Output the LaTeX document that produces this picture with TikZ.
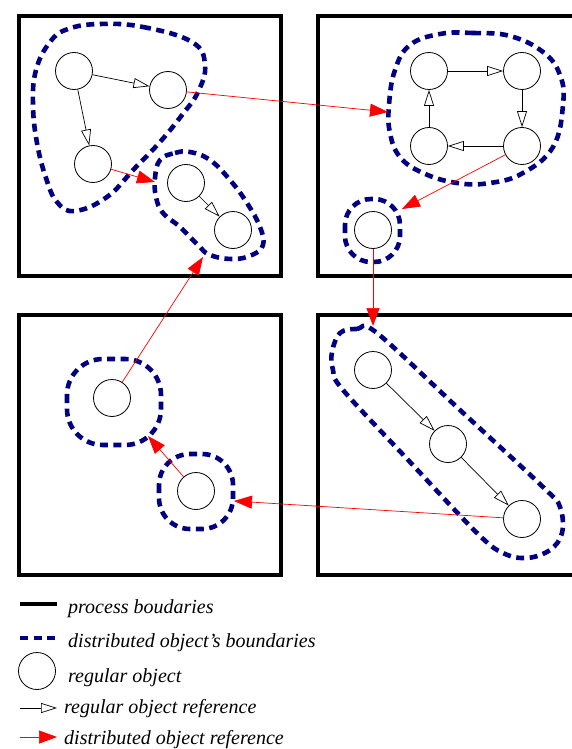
\documentclass[tikz,border=0pt]{standalone}
\usepackage{fontspec}
\setmainfont{Liberation Serif}
\usetikzlibrary{arrows.meta}
\definecolor{blobblue}{RGB}{0,0,128}

\begin{document}
\begin{tikzpicture}[x=1pt,y=-1pt,
  obj/.style={circle,draw,line width=0.8pt,minimum size=37pt,inner sep=0pt},
  proc/.style={line width=4pt},
  distobj/.style={draw=blobblue,line width=4.6pt,dash pattern=on 8pt off 5.5pt},
  regref/.style={line width=0.7pt,-{Triangle[open,length=16pt,width=10pt]}},
  distref/.style={red,line width=0.7pt,-{Triangle[length=18pt,width=13pt]}},
  legtext/.style={anchor=base west,inner sep=0pt,font=\fontsize{20}{24}\selectfont\itshape}]
  \useasboundingbox (0,0) rectangle (571,749);
  % processes
  \draw[proc] (19,16) rectangle (280.5,275.5);
  \draw[proc] (317.5,16.5) rectangle (600,275.5);
  \draw[proc] (19,315) rectangle (280.5,575);
  \draw[proc] (317.5,315) rectangle (600,575);
  % regular objects
  \node[obj] (a1) at (74,71) {};
  \node[obj] (a2) at (168,90) {};
  \node[obj] (a3) at (93,164) {};
  \node[obj] (b1) at (186,183) {};
  \node[obj] (b2) at (233,230) {};
  \node[obj] (c1) at (429,71) {};
  \node[obj] (c2) at (522,71) {};
  \node[obj] (c3) at (429,146) {};
  \node[obj] (c4) at (522,146) {};
  \node[obj] (d1) at (373,230) {};
  \node[obj] (e1) at (112,398) {};
  \node[obj] (e2) at (196,491) {};
  \node[obj] (f1) at (373,370) {};
  \node[obj] (f2) at (448,444) {};
  \node[obj] (f3) at (522,519) {};
  % distributed objects
  \draw[distobj] plot[smooth cycle,tension=0.7] coordinates {(100,24) (143,27) (192,42) (205,65)
    (198,92) (182,115) (160,142) (135,168) (107,197) (75,211) (57,202) (46,178) (37,143)
    (33,105) (36,70) (50,42) (68,29)};
  \draw[distobj] plot[smooth cycle,tension=0.7] coordinates {(160,160) (175,153) (190,152)
    (210,160) (230,180) (247,203) (260,227) (263,245) (252,255) (233,259) (210,255) (198,245)
    (180,227) (163,213) (156,197) (155,178)};
  \draw[distobj] plot[smooth cycle,tension=0.7] coordinates {(440,34) (473,33) (510,36)
    (543,52) (560,75) (563,105) (553,147) (523,173) (490,183) (457,183) (423,173) (400,157)
    (390,133) (389,105) (395,70) (410,45)};
  \draw[distobj,rounded corners=26pt] (345,199) rectangle (400,262);
  \draw[distobj,rounded corners=36pt] (67,359) rectangle (161,445);
  \draw[distobj,rounded corners=31pt] (159,454) rectangle (233,529);
  \draw[distobj] plot[smooth cycle,tension=0.6] coordinates {(340,333) (357,329) (377,333)
    (460,410) (543,487) (560,507) (562,533) (550,550) (527,558) (503,553) (477,533)
    (410,462) (343,390) (333,370) (332,352)};
  % regular references
  \draw[regref] (a1) -- (a2);
  \draw[regref] (a1) -- (a3);
  \draw[regref] (b1) -- (b2);
  \draw[regref] (c1) -- (c2);
  \draw[regref] (c2) -- (c4);
  \draw[regref] (c4) -- (c3);
  \draw[regref] (c3) -- (c1);
  \draw[regref] (f1) -- (f2);
  \draw[regref] (f2) -- (f3);
  % distributed references
  \coordinate (tipC) at (388,112);
  \coordinate (tipB) at (155,182);
  \coordinate (tipD) at (402,209);
  \coordinate (tipF) at (373,326);
  \coordinate (tipEtwo) at (234,501);
  \coordinate (tipEone) at (148,436);
  \coordinate (tipBlow) at (203,257);
  \draw[distref] (a2) -- (tipC);
  \draw[distref] (a3) -- (tipB);
  \draw[distref] (c4) -- (tipD);
  \draw[distref] (d1) -- (tipF);
  \draw[distref] (f3) -- (tipEtwo);
  \draw[distref] (e2) -- (tipEone);
  \draw[distref] (e1) -- (tipBlow);
  % legend
  \foreach \y/\n in {604/1,638/2,708/4,737/5} {
    \coordinate (ls\n) at (20,\y);
    \coordinate (le\n) at (57,\y);
  }
  \draw[proc] (ls1) -- (le1);
  \draw[distobj] (ls2) -- (le2);
  \node[obj] (lobj) at (37,671) {};
  \draw[regref] (ls4) -- (le4);
  \draw[distref] (ls5) -- (le5);
  \node[legtext] (t1) at (68,613) {process boudaries};
  \node[legtext] (t2) at (68,647) {distributed object's boundaries};
  \node[legtext] (t3) at (68,682) {regular object};
  \node[legtext] (t4) at (64,713) {regular object reference};
  \node[legtext] (t5) at (64,744) {distributed object reference};
\end{tikzpicture}
\end{document}
